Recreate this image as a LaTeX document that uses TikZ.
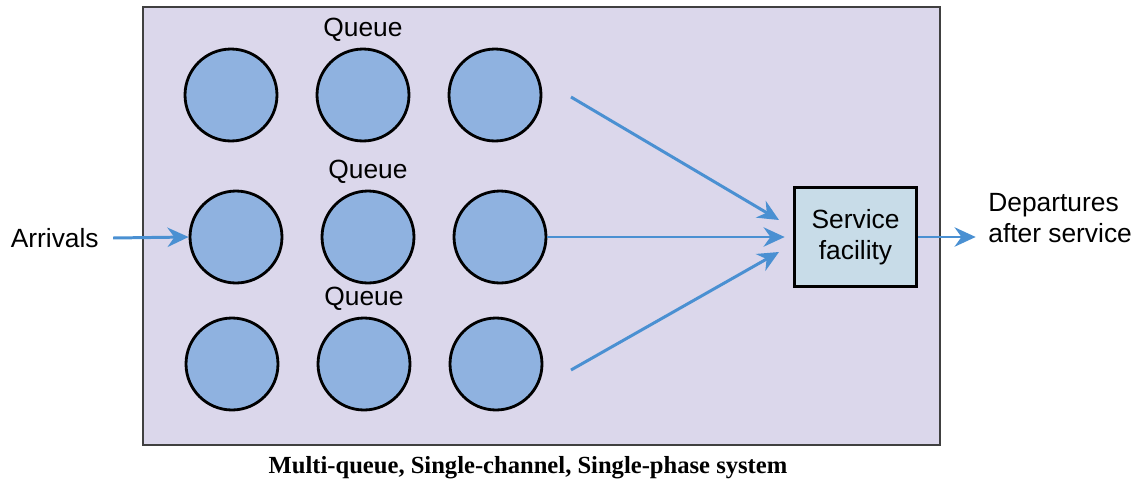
\documentclass[tikz,border=0pt]{standalone}
\usepackage{fontspec}
\setmainfont{Liberation Sans}
\newfontfamily\capfont{Liberation Serif}
\usetikzlibrary{arrows.meta}

\definecolor{panelbg}{RGB}{219,215,235}
\definecolor{custfill}{RGB}{143,178,224}
\definecolor{svcfill}{RGB}{200,220,232}
\definecolor{flowblue}{RGB}{74,144,210}

\tikzset{
	customer/.style={circle, draw=black, line width=1.6pt, fill=custfill, inner sep=0pt, minimum size=1.84cm},
	label text/.style={font=\fontsize{15}{17.5}\selectfont, inner sep=0pt},
	flow/.style={draw=flowblue, line width=1.7pt, -{Stealth[length=12pt, width=11pt]}}
}

\begin{document}
\begin{tikzpicture}[x=0.02cm, y=-0.02cm]
		\useasboundingbox (0,0) rectangle (1137,484);
		
		% Panel
		\draw[draw=black!75, line width=1pt, fill=panelbg] (143,7) rectangle (940,445);
		
		% Queues
		\foreach \r/\y/\dx in {1/95/0, 2/237/5, 3/364/1} {
			\node[label text] (lbl\r) at (363+\dx, \y-65) {Queue};
			\foreach \c/\x in {1/231, 2/363, 3/495} {
				\node[customer] (q\r\c) at (\x+\dx, \y) {};
			}
		}
		
		% Service facility
		\node[draw=black, line width=2.2pt, fill=svcfill, minimum width=2.44cm, minimum height=1.98cm, align=center, label text] (svc) at (855.5,237) {Service\\facility};
		
		% Outside labels
		\node[label text, anchor=east] (arr) at (99,238) {Arrivals};
		\node[label text, anchor=west, align=left] (dep) at (988,218) {Departures\\after service};
		\node[font=\capfont\bfseries\fontsize{14}{16}\selectfont, inner sep=0pt] (cap) at (528,468) {Multi-queue, Single-channel, Single-phase system};
		
		% Flows
		\coordinate (s1) at (571,97);
		\coordinate (e1) at (779,220);
		\coordinate (s3) at (571,370);
		\coordinate (e3) at (779,252);
		\draw[flow] ([xshift=8pt]arr.east) -- (q21.west);
		\draw[flow] (s1) -- (e1);
		\draw[flow] (q23.east) -- ([xshift=-4.5pt]svc.west);
		\draw[flow] (s3) -- (e3);
		\draw[flow] (svc.east) -- ([xshift=-7pt]svc.east -| dep.west);
	\end{tikzpicture}
\end{document}
